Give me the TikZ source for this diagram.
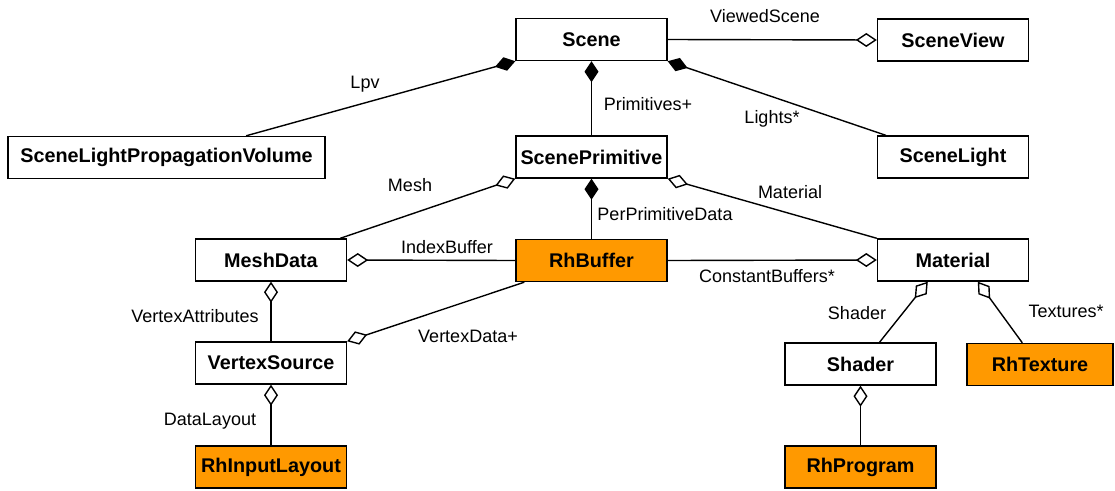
\documentclass[tikz,border=0pt]{standalone}
\usepackage{fontspec}
\setmainfont{Liberation Sans}
\usetikzlibrary{arrows.meta,calc}
\definecolor{rhorange}{HTML}{FF9900}

\begin{document}
\begin{tikzpicture}[x=1pt,y=-1pt,
  cls/.style={draw, line width=1.4pt, minimum width=151pt, minimum height=42pt,
    inner sep=0pt, fill=white, font=\fontsize{19.8}{22}\selectfont\bfseries},
  rh/.style={cls, fill=rhorange},
  lbl/.style={inner sep=0pt, font=\fontsize{18}{20}\selectfont},
  link/.style={line width=1.4pt},
  agg/.style={link, {Diamond[open, length=21pt, width=14pt]}-},
  comp/.style={link, {Diamond[length=21pt, width=14pt]}-},
]
\useasboundingbox (0,0) rectangle (1115,490);

% classes
\node[cls] (scene)  at (591.5, 39.5) {Scene};
\node[cls] (view)   at (953, 40)     {SceneView};
\node[cls, minimum width=317pt] (lpv) at (166.5, 157.5) {SceneLightPropagationVolume};
\node[cls] (prim)   at (591.5, 157)  {ScenePrimitive};
\node[cls] (light)  at (953, 157)    {SceneLight};
\node[cls] (mesh)   at (271, 260)    {MeshData};
\node[rh]  (buf)    at (591.5, 260.5){RhBuffer};
\node[cls] (mat)    at (953, 260)    {Material};
\node[cls] (vsrc)   at (271, 363)    {VertexSource};
\node[cls] (shader) at (860.5, 364)  {Shader};
\node[rh, minimum width=146pt] (tex) at (1040, 364.5) {RhTexture};
\node[rh]  (layout) at (271, 467)    {RhInputLayout};
\node[rh]  (prog)   at (860.5, 467)  {RhProgram};

% free connector ends on box edges
\coordinate (lpvTop)    at ($(lpv.north west)!0.75!(lpv.north east)$);
\coordinate (lightTop)  at ($(light.north west)+(9,0)$);
\coordinate (meshTop)   at ($(mesh.north east)+(-7,0)$);
\coordinate (bufFoot)   at ($(buf.south west)+(9,0)$);
\coordinate (matShader) at ($(mat.south west)+(51,0)$);
\coordinate (shaderTop) at ($(shader.north)+(19,0)$);
\coordinate (matTex)    at ($(mat.south west)+(101,0)$);
\coordinate (texTop)    at ($(tex.north west)+(56,0)$);

% associations
\draw[agg]  (view.west) -- (scene.east);
\draw[comp] (scene.south west) -- (lpvTop);
\draw[comp] (scene.south) -- (prim.north);
\draw[comp] (scene.south east) -- (lightTop);
\draw[agg]  (prim.south west) -- (meshTop);
\draw[comp] (prim.south) -- (buf.north);
\draw[agg]  (prim.south east) -- (mat.north west);
\draw[agg]  (mesh.east) -- (buf.west);
\draw[agg]  (mat.west) -- (buf.east);
\draw[agg]  (vsrc.north east) -- (bufFoot);
\draw[agg]  (mesh.south) -- (vsrc.north);
\draw[agg]  (vsrc.south) -- (layout.north);
\draw[agg]  (matShader) -- (shaderTop);
\draw[agg]  (matTex) -- (texTop);
\draw[agg]  (shader.south) -- (prog.north);

% role names
\node[lbl] (lViewed) at (765, 16)  {ViewedScene};
\node[lbl] (lLpv)    at (365, 84)  {Lpv};
\node[lbl] (lPrims)  at (648, 104) {Primitives+};
\node[lbl] (lLights) at (772, 119) {Lights*};
\node[lbl] (lMesh)   at (410, 185) {Mesh};
\node[lbl] (lPerPr)  at (665, 214) {PerPrimitiveData};
\node[lbl] (lMat)    at (790, 192) {Material};
\node[lbl] (lIndex)  at (447, 247) {IndexBuffer};
\node[lbl] (lConst)  at (767, 276) {ConstantBuffers*};
\node[lbl] (lVAttr)  at (195, 316) {VertexAttributes};
\node[lbl] (lVData)  at (468, 336) {VertexData+};
\node[lbl] (lLayout) at (210, 421) {DataLayout};
\node[lbl] (lShader) at (857, 313) {Shader};
\node[lbl] (lTex)    at (1066, 311){Textures*};
\end{tikzpicture}
\end{document}
